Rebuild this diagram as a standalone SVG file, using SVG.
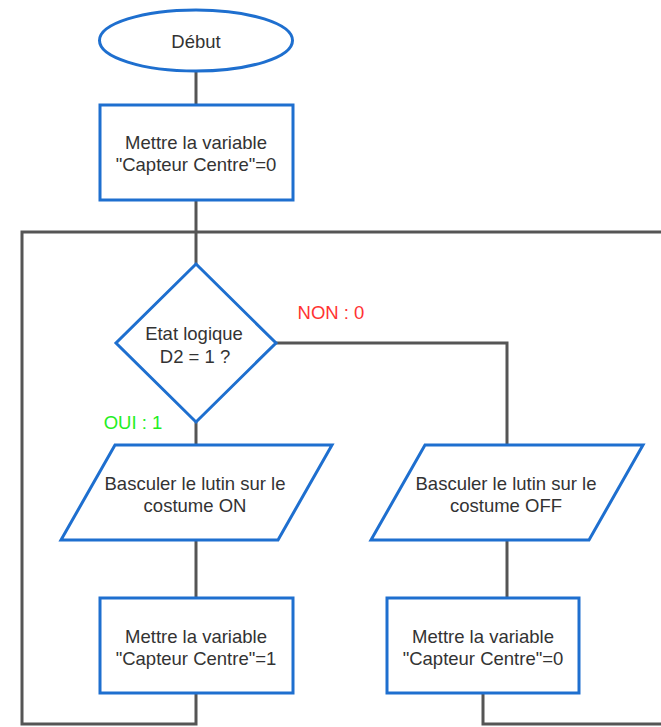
<svg xmlns="http://www.w3.org/2000/svg" width="661" height="727" viewBox="0 0 661 727">
<style>
.shape{fill:#ffffff;stroke:#1E6FCF;stroke-width:3}
.edge{fill:none;stroke:#555555;stroke-width:3}
.t{font-family:"Liberation Sans",Arial,sans-serif;font-size:18.5px;fill:#333333;text-anchor:middle}
.lbl{font-family:"Liberation Sans",Arial,sans-serif;font-size:18.5px;text-anchor:middle}
</style>
<rect width="661" height="727" fill="#ffffff"/>
<g id="connectors">
<path class="edge" d="M196,71 V105"/>
<path class="edge" d="M196,200 V264"/>
<path class="edge" d="M196,422 V445"/>
<path class="edge" d="M276,343 H507 V445"/>
<path class="edge" d="M196,540 V598"/>
<path class="edge" d="M507,540 V598"/>
<path class="edge" d="M196,693 V724 H22 V232 H664"/>
<path class="edge" d="M483,693 V724 H664"/>
</g>
<g id="start">
<ellipse class="shape" cx="196" cy="40.5" rx="96.5" ry="30.5"/>
<text class="t" x="196" y="48">Début</text>
</g>
<g id="init">
<rect class="shape" x="100" y="105" width="193" height="95"/>
<text class="t" x="196" y="149">Mettre la variable</text>
<text class="t" x="196" y="171">"Capteur Centre"=0</text>
</g>
<g id="decision">
<polygon class="shape" points="196,264 276,343 196,422 116,343"/>
<text class="t" x="194" y="339.5">Etat logique</text>
<text class="t" x="195" y="362.5">D2 = 1 ?</text>
</g>
<g id="label-non">
<text class="lbl" x="331" y="319" fill="#FF3333">NON : 0</text>
</g>
<g id="label-oui">
<text class="lbl" x="133" y="429" fill="#22EE22">OUI : 1</text>
</g>
<g id="costume-on">
<polygon class="shape" points="115,445 332,445 278,540 61,540"/>
<text class="t" x="195" y="490">Basculer le lutin sur le</text>
<text class="t" x="195" y="512">costume ON</text>
</g>
<g id="costume-off">
<polygon class="shape" points="425,445 643,445 589,540 371,540"/>
<text class="t" x="506" y="490">Basculer le lutin sur le</text>
<text class="t" x="506" y="512">costume OFF</text>
</g>
<g id="set1">
<rect class="shape" x="100" y="598" width="193" height="95"/>
<text class="t" x="196" y="642.5">Mettre la variable</text>
<text class="t" x="196" y="665">"Capteur Centre"=1</text>
</g>
<g id="set0">
<rect class="shape" x="387" y="598" width="192" height="95"/>
<text class="t" x="483" y="642.5">Mettre la variable</text>
<text class="t" x="483" y="665">"Capteur Centre"=0</text>
</g>
</svg>
